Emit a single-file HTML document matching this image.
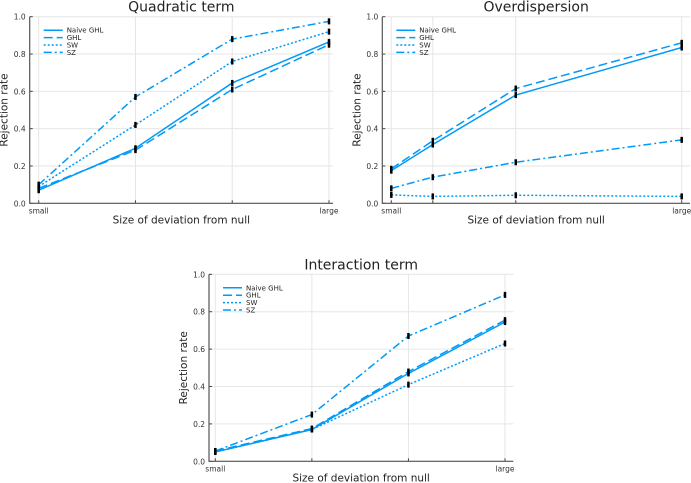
<!DOCTYPE html>
<html><head><meta charset="utf-8"><style>
body{margin:0;background:#fff;}
svg{display:block;font-family:"DejaVu Sans","Liberation Sans",sans-serif;}
</style></head><body>
<svg id="s" width="691" height="483" viewBox="0 0 691 483"></svg>
<script>
// Data
const seriesNames = ["Naive GHL","GHL","SW","SZ"];
const quadX = [0,1,2,3];
const quadNaive = [0.07,0.295,0.645,0.865];
const quadGHL = [0.08,0.285,0.61,0.85];
const quadSW = [0.09,0.42,0.76,0.92];
const quadSZ = [0.10,0.57,0.88,0.975];
const overX = [0,1,3,7];
const overNaive = [0.175,0.315,0.58,0.835];
const overGHL = [0.185,0.335,0.615,0.86];
const overSW = [0.045,0.037,0.043,0.037];
const overSZ = [0.08,0.14,0.22,0.34];
const interX = [0,1,2,3];
const interNaive = [0.05,0.17,0.47,0.745];
const interGHL = [0.055,0.175,0.48,0.755];
const interSW = [0.05,0.17,0.41,0.63];
const interSZ = [0.055,0.25,0.67,0.89];
const yTicks = [0,0.2,0.4,0.6,0.8,1.0];
const yTickLabels = ["0.0","0.2","0.4","0.6","0.8","1.0"];

const NS="http://www.w3.org/2000/svg";
const svg=document.getElementById('s');
const dashes=["none","9,4","2,2","8,3,2,3"];
function el(t,a,p){const e=document.createElementNS(NS,t);for(const k in a)e.setAttribute(k,a[k]);(p||svg).appendChild(e);return e;}

function chart(name,title,xs,series,box){
  const g=el('g',{});
  
  
  const {L,R,T,B,x0,x1}=box;
  const xmin=Math.min(...xs),xmax=Math.max(...xs);
  const X=v=>x0+(v-xmin)/(xmax-xmin)*(x1-x0);
  const Y=v=>B-v*(B-T);
  xs.forEach(v=>{const l=el('line',{x1:X(v),x2:X(v),y1:T,y2:B,stroke:'#e6e6e6','stroke-width':1},g);
    });
  yTicks.forEach((v,i)=>{const l=el('line',{x1:L,x2:R,y1:Y(v),y2:Y(v),stroke:'#e6e6e6','stroke-width':1},g);
    
    const t=el('text',{x:L-4,y:Y(v)+3,'font-size':7.5,'text-anchor':'end',fill:'#333'},g);t.textContent=yTickLabels[i];
    
    el('line',{x1:L,x2:L+3,y1:Y(v),y2:Y(v),stroke:'#444'},g);});
  xs.forEach(v=>el('line',{x1:X(v),x2:X(v),y1:B,y2:B-3,stroke:'#444'},g));
  const ax=el('path',{d:`M${L},${T} L${L},${B} L${R},${B}`,fill:'none',stroke:'#555','stroke-width':1.2},g);
  
  const t1=el('text',{x:X(xmin),y:B+10,'font-size':7.5,'text-anchor':'middle',fill:'#333'},g);t1.textContent='small';
  
  const t2=el('text',{x:X(xmax),y:B+10,'font-size':7.5,'text-anchor':'middle',fill:'#333'},g);t2.textContent='large';
  
  const xt=el('text',{x:(L+R)/2,y:B+17,'font-size':10.5,'text-anchor':'middle','dominant-baseline':'middle',fill:'#222'},g);xt.textContent='Size of deviation from null';
  
  const yx=L-22,yy=(T+B)/2;
  const yt=el('text',{x:yx,y:yy,'font-size':10.5,'text-anchor':'middle',fill:'#222',transform:`rotate(-90 ${yx} ${yy})`},g);yt.textContent='Rejection rate';
  
  const tt=el('text',{x:(L+R)/2,y:T-5,'font-size':14,'text-anchor':'middle',fill:'#222'},g);tt.textContent=title;
  
  series.forEach((vals,si)=>{
    const p=el('polyline',{points:xs.map((x,i)=>X(x)+','+Y(vals[i])).join(' '),fill:'none',stroke:'#009af9','stroke-width':1.5,'stroke-dasharray':dashes[si]},g);
    
    xs.forEach((x,i)=>{const e=el('line',{x1:X(x),x2:X(x),y1:Y(vals[i])-3,y2:Y(vals[i])+3,stroke:'#000','stroke-width':2.5},g);
      });
  });
  seriesNames.forEach((n,i)=>{const ly=T+13.5+i*7.4;
    const l=el('line',{x1:L+14,x2:L+33,y1:ly,y2:ly,stroke:'#009af9','stroke-width':1.5,'stroke-dasharray':dashes[i]},g);
    
    const t=el('text',{x:L+37,y:ly+2.5,'font-size':7,fill:'#222'},g);t.textContent=n;
    });
}
chart('quadratic-chart','Quadratic term',quadX,[quadNaive,quadGHL,quadSW,quadSZ],{L:29.7,R:333,T:16.7,B:203.3,x0:38.7,x1:329});
chart('overdispersion-chart','Overdispersion',overX,[overNaive,overGHL,overSW,overSZ],{L:382.3,R:690,T:16.7,B:203.3,x0:391.3,x1:681.7});
chart('interaction-chart','Interaction term',interX,[interNaive,interGHL,interSW,interSZ],{L:209,R:513.3,T:274.3,B:461.3,x0:215.3,x1:505});
</script>
</body></html>
